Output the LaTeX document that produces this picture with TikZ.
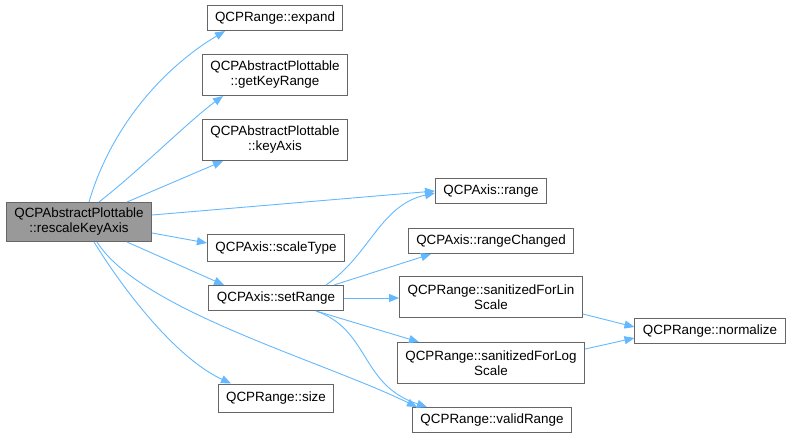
\documentclass[tikz,border=0pt]{standalone}
\usepackage{fontspec}
\setmainfont{Liberation Sans}
\usetikzlibrary{arrows.meta, positioning}

\definecolor{edgeblue}{HTML}{63B8FF}
\definecolor{boxgray}{HTML}{666666}
\definecolor{curgray}{HTML}{999999}

\begin{document}
\begin{tikzpicture}[
    x=1pt, y=-1pt,
    >={Triangle[length=10pt, width=8pt]},
    fn/.style={draw=boxgray, line width=1pt, fill=white, align=center,
               inner xsep=8pt, inner ysep=0pt, minimum height=25pt,
               font=\fontsize{13.4}{15}\selectfont},
    fn2/.style={fn, minimum height=41pt},
    cur/.style={fn2, minimum height=39pt, fill=curgray},
    call/.style={->, draw=edgeblue, fill=none, line width=0.9pt,
                 every arrow/.append style={fill=edgeblue}}
  ]
  \useasboundingbox (0,0) rectangle (792,439);

  \node[cur] (main) at (79,222) {QCPAbstractPlottable\\::rescaleKeyAxis};

  \node[fn]  (expand)  at (275,18)  {QCPRange::expand};
  \node[fn2] (keyrng)  at (275,75)  {QCPAbstractPlottable\\::getKeyRange};
  \node[fn2] (keyaxis) at (275,140) {QCPAbstractPlottable\\::keyAxis};
  \node[fn, minimum height=27pt] (scltype) at (276,248) {QCPAxis::scaleType};
  \node[fn]  (setrng)  at (276,298) {QCPAxis::setRange};
  \node[fn, minimum height=28pt] (size) at (276,398) {QCPRange::size};

  \node[fn]  (range)   at (491,191) {QCPAxis::range};
  \node[fn]  (rngchg)  at (491,241) {QCPAxis::rangeChanged};
  \node[fn2] (sanlin)  at (491,297) {QCPRange::sanitizedForLin\\Scale};
  \node[fn2] (sanlog)  at (491,363) {QCPRange::sanitizedForLog\\Scale};
  \node[fn]  (valid)   at (492,420) {QCPRange::validRange};
  \node[fn]  (normal)  at (710,331) {QCPRange::normalize};

  % calls of rescaleKeyAxis
  \draw[call] ([xshift=10pt]main.north) .. controls (110,130) and (160,70) .. ([xshift=-50pt]expand.south);
  \draw[call] ([xshift=20pt]main.north) .. controls (140,170) and (190,120) .. ([xshift=-52pt]keyrng.south);
  \draw[call] ([xshift=48pt]main.north) -- ([xshift=-52pt]keyaxis.south);
  \draw[call] ([yshift=7pt]main.east) -- (range.west);
  \draw[call] ([yshift=-11pt]main.east) -- ([yshift=5pt]scltype.west);
  \draw[call] ([xshift=48pt]main.south) -- ([xshift=-52pt]setrng.north);
  \draw[call] ([xshift=15pt]main.south) .. controls (130,300) and (180,360) .. ([xshift=-45pt]size.north);
  \draw[call] ([xshift=18pt]main.south) .. controls (140,310) and (320,360) .. ([xshift=-75pt]valid.north);

  % calls of setRange
  \draw[call] ([xshift=50pt]setrng.north) .. controls (370,255) and (380,205) .. ([yshift=-2pt]range.west);
  \draw[call] ([xshift=58pt]setrng.north) -- ([xshift=-60pt]rngchg.south);
  \draw[call] (setrng.east) -- (sanlin.west |- setrng.east);
  \draw[call] ([xshift=40pt]setrng.south) -- ([xshift=-72pt]sanlog.north);
  \draw[call] ([xshift=40pt]setrng.south) .. controls (370,330) and (360,385) .. ([xshift=-65pt]valid.north);

  % calls of normalize
  \draw[call] ([yshift=-17pt]sanlin.east) -- ([yshift=4pt]normal.west);
  \draw[call] ([yshift=14pt]sanlog.east) -- ([yshift=-7pt]normal.west);
\end{tikzpicture}
\end{document}
